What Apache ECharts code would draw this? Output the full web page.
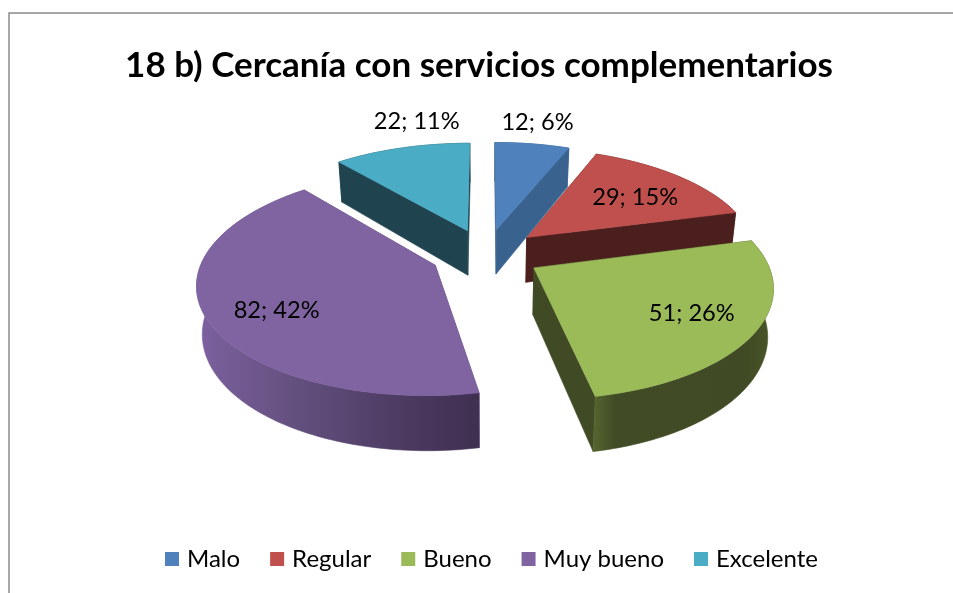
<!DOCTYPE html>
<html><head><meta charset="utf-8">
<style>html,body{margin:0;padding:0;background:#fff}#c{width:953px;height:593px}</style>
<script src="https://cdn.jsdelivr.net/npm/echarts@6/dist/echarts.min.js"></script></head>
<body><div id="c"></div>
<script>
const categories = ['Malo','Regular','Bueno','Muy bueno','Excelente'];
const values = [12,29,51,82,22];
const percents = [6,15,26,42,11];
const topColors = ['#4F81BD','#C0504D','#9BBB59','#8064A2','#4BACC6'];
const sideColors = ['#3A628F','#4C1F1F','#404A24','#5A4675','#1F444F'];
const wallStops = [
  [[0,'#3A628F'],[1,'#3A628F']],
  [[0,'#4C1F1F'],[1,'#4C1F1F']],
  [[0,'#56662F'],[0.12,'#414B25'],[0.85,'#404A24'],[1,'#4A5628']],
  [[0,'#7C619F'],[0.35,'#64507F'],[0.7,'#4E3C64'],[1,'#3F2F50']],
  [[0,'#1F444F'],[1,'#1F444F']]
];
const labelNudge = [[15,-45],[0,4],[7,2],[-1,10],[-3,-49]];
const drawOrder = [1,0,2,4,3];   // z rank per category: back slices first
const geo = {cx:486, cy:254, R:231, Rs:107, p:0.15, explode:0.24, h:46, lowScale:0.98};

const total = values.reduce((a,b)=>a+b,0);
const starts = []; let acc = 0;
values.forEach(v=>{starts.push(acc/total*Math.PI*2); acc+=v;});

function project(u,v,drop){
  const w = 1/(1-geo.p*v);
  const k = drop?geo.lowScale:1;
  return [geo.cx+geo.R*u*w*k, geo.cy+geo.Rs*v*w+(drop?geo.h*w:0)];
}
function sliceParts(i){
  const a0 = starts[i], a1 = a0+values[i]/total*Math.PI*2, m=(a0+a1)/2;
  const ou = geo.explode*Math.sin(m), ov = -geo.explode*Math.cos(m);
  const pt = (t,r,drop)=>project(ou+r*Math.sin(t), ov-r*Math.cos(t), drop);
  const n = Math.max(8,Math.ceil((a1-a0)/0.02));
  const arc=[], arcLow=[];
  for(let k=0;k<=n;k++){const t=a0+(a1-a0)*k/n; arc.push(pt(t,1,false)); arcLow.push(pt(t,1,true));}
  const apex=pt(0,0,false), apexLow=pt(0,0,true);
  return {a0,a1,m,pt,arc,arcLow,apex,apexLow};
}
function renderSlice(i,api){
  const s = sliceParts(i);
  const stops = wallStops[i].map(c=>({offset:c[0],color:c[1]}));
  const grad = new echarts.graphic.LinearGradient(0,0,1,0,stops);
  const poly=(points,fill)=>({type:'polygon',shape:{points},style:{fill,stroke:fill,lineWidth:0.6}});
  const children=[];
  const first=s.arc[0], firstLow=s.arcLow[0], last=s.arc[s.arc.length-1], lastLow=s.arcLow[s.arcLow.length-1];
  children.push(poly([s.apex,first,firstLow,s.apexLow],sideColors[i]));
  children.push(poly([s.apex,last,lastLow,s.apexLow],sideColors[i]));
  children.push(poly(s.arc.concat(s.arcLow.slice().reverse()),grad));
  children.push(poly([s.apex].concat(s.arc),topColors[i]));
  const lp=s.pt(s.m,0.7,false), nudge=labelNudge[i];
  children.push({type:'text',style:{
    text:values[i]+'; '+percents[i]+'%',x:lp[0]+nudge[0],y:lp[1]+nudge[1],
    align:'center',verticalAlign:'middle',fill:'#000',font:'23.6px Lato'}});
  return {type:'group',children};
}
const chart = echarts.init(document.getElementById('c'),null,{renderer:'canvas'});
chart.setOption({
  backgroundColor:'#fff',animation:false,
  title:{text:'18 b) Cercanía con servicios complementarios',left:474,top:43,textAlign:'center',
    textStyle:{fontFamily:'Lato',fontWeight:'bold',fontSize:35,color:'#000'}},
  legend:{left:160,top:542,itemWidth:14,itemHeight:14,itemGap:30,icon:'rect',
    data:categories,textStyle:{fontFamily:'Lato',fontSize:24,color:'#000',padding:[0,0,0,3]}},
  graphic:[{type:'rect',silent:true,shape:{x:9,y:13,width:1100,height:900},
    style:{fill:'none',stroke:'#8A8A8A',lineWidth:1.5}}],
  series:categories.map((name,i)=>({
    type:'custom',name,coordinateSystem:'none',z:2+drawOrder[i],
    itemStyle:{color:topColors[i]},
    data:[values[i]],
    renderItem:(p,api)=>renderSlice(i,api)
  }))
});
</script></body></html>
